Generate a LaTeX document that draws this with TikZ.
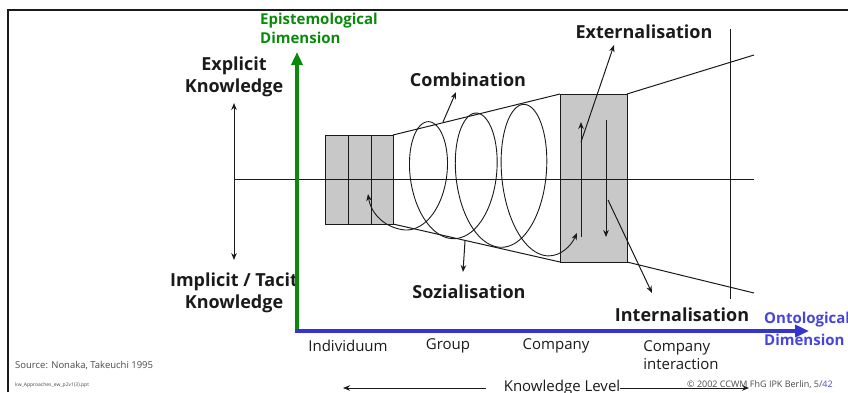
\documentclass[tikz,border=0pt]{standalone}
\usepackage{fontspec}
\setmainfont{Open Sans}
\usepackage{xcolor}
\usepackage{tikz}
\usetikzlibrary{arrows.meta}
\definecolor{epigreen}{HTML}{0A8A0A}
\definecolor{ontoblue}{HTML}{3535CC}
\definecolor{ontotext}{HTML}{4646DD}
\definecolor{boxgray}{HTML}{C8C8C8}
\definecolor{inkx}{HTML}{1A1A1A}
\tikzset{
  ln/.style={inkx,line width=1pt},
  ar/.style={-{Stealth[length=7pt,width=5.5pt]},inkx,line width=1pt},
  dar/.style={{Stealth[length=7pt,width=5.5pt]}-{Stealth[length=7pt,width=5.5pt]},inkx,line width=1pt},
  cell/.style={fill=boxgray,draw=inkx,line width=1pt},
  big/.style={font=\fontsize{18}{22}\selectfont\bfseries,text=inkx,align=center,inner sep=1pt},
  axlbl/.style={font=\fontsize{15}{19}\selectfont\bfseries,align=left,inner sep=1pt},
  lvl/.style={font=\fontsize{15}{18}\selectfont,text=inkx,align=left,inner sep=1pt},
  note/.style={font=\fontsize{9.5}{11}\selectfont,text=inkx!80,inner sep=0pt,anchor=base west}
}
\begin{document}
\begin{tikzpicture}[x=1pt,y=-1pt]
\useasboundingbox (0,0) rectangle (848,392);
\draw[inkx,line width=1.5pt] (8,392) |- (848,10);
\foreach \xa/\xb in {325/348,348/371,371/393}{\draw[cell] (\xa,135) rectangle (\xb,224);}
\draw[cell] (560,94) rectangle (627,262);
\draw[ln] (234,179) -- (754,179);
\draw[ln] (393,135) -- (560,94) (393,224) -- (560,262);
\draw[ln] (627,94) -- (754,55) (627,262) -- (754,293);
\draw[ln] (730,29) -- (730,299);
\node[big] (lbl-explicit) at (234,77) {Explicit\\Knowledge};
\node[big] (lbl-implicit) at (234,293) {Implicit / Tacit\\Knowledge};
\coordinate (tacit-up) at (234,103);
\coordinate (tacit-down) at (234,260);
\draw[dar] (tacit-up) -- (tacit-down);
\node[big] (lbl-comb) at (468,80) {Combination};
\node[big] (lbl-ext) at (644,32) {Externalisation};
\node[big] (lbl-soz) at (469,292) {Sozialisation};
\node[big] (lbl-int) at (682,315) {Internalisation};
\coordinate (comb-foot) at (443,122);
\coordinate (comb-tip) at (456,92);
\draw[ar] (comb-foot) -- (comb-tip);
\coordinate (soz-foot) at (465,241);
\coordinate (soz-tip) at (463,272);
\draw[ar] (soz-foot) -- (soz-tip);
\coordinate (up-foot) at (581,237);
\coordinate (up-tip) at (581,122);
\draw[ar] (up-foot) -- (up-tip);
\coordinate (down-foot) at (606,120);
\coordinate (down-tip) at (606,237);
\draw[ar] (down-foot) -- (down-tip);
\coordinate (ext-foot) at (581,142);
\coordinate (ext-tip) at (614,45);
\draw[ar] (ext-foot) -- (ext-tip);
\coordinate (int-foot) at (608,200);
\coordinate (int-tip) at (652,293);
\draw[ar] (int-foot) -- (int-tip);
\coordinate (spi-start) at (368,194);
\coordinate (spi-end) at (577,233);
\draw[dar,line width=0.9pt] (spi-start) .. controls (371,214) and (385,228) .. (405,230)
  -- plot[domain=0:1080,samples=300] ({405+0.13265*\x+(29+0.0055*\x)*sin(\x)},{178+(52+0.024*\x)*cos(\x)})
  .. controls (561,256) and (571,246) .. (spi-end);
\draw[epigreen,line width=3.5pt,-{Triangle[length=13pt,width=11pt]}] (297,333) -- (297,52);
\draw[ontoblue,line width=4pt,-{Triangle[length=14pt,width=12pt]}] (295,331) -- (809,331);
\node[axlbl,text=epigreen,anchor=north west] (lbl-epi) at (259,12) {Epistemological\\Dimension};
\node[axlbl,text=ontotext,anchor=north west] (lbl-onto) at (763,311) {Ontological\\[3pt]Dimension};
\node[lvl] (lvl-ind) at (348,346) {Individuum};
\node[lvl] (lvl-grp) at (448,346) {Group};
\node[lvl] (lvl-com) at (556,346) {Company};
\node[lvl] (lvl-inter) at (681,355) {Company\\interaction};
\node[lvl] (lbl-level) at (562,388) {Knowledge Level};
\coordinate (lvl-left) at (343,388);
\coordinate (lvl-lfoot) at (486,388);
\coordinate (lvl-rfoot) at (620,388);
\coordinate (lvl-right) at (749,388);
\draw[ar] (lvl-lfoot) -- (lvl-left);
\draw[ar] (lvl-rfoot) -- (lvl-right);
\node[note] (src) at (15,368) {Source: Nonaka, Takeuchi 1995};
\node[note,font=\fontsize{5}{6}\selectfont] (file) at (15,386) {kw\_Approaches\_ew\_p2v1(3).ppt};
\node[note,font=\fontsize{9}{11}\selectfont] (copy) at (687,387) {© 2002 CCWM FhG IPK Berlin, 5/\textcolor{ontotext}{42}};
\end{tikzpicture}
\end{document}
